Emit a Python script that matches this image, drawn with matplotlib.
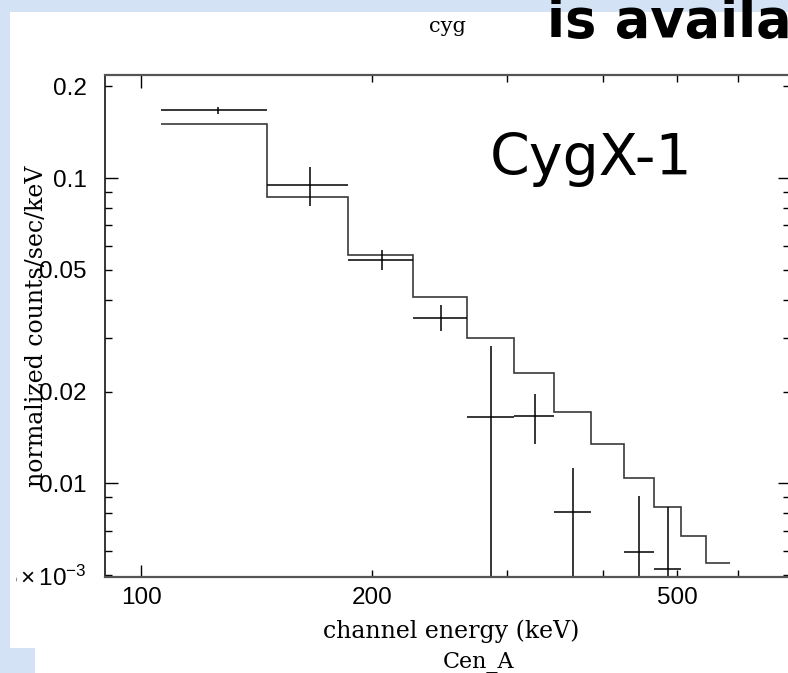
import matplotlib
matplotlib.use('Agg')
import matplotlib.pyplot as plt
from matplotlib.patches import Rectangle
from matplotlib.ticker import FixedLocator, FuncFormatter

# channel bins (keV) and folded model (counts/s/keV)
edges = [106, 146, 186, 226, 266, 306, 346, 386, 426, 466, 506, 546, 586]
model = [0.150, 0.0867, 0.0560, 0.0408, 0.0300, 0.0230, 0.0171, 0.01347,
         0.01042, 0.00838, 0.00673, 0.00549]

# data points (bin centre, half width, value, error)
data_e = [126, 166, 206, 246, 286, 326, 366, 446, 486]
data_hw = [20, 20, 20, 20, 20, 20, 20, 20, 20]
data_y = [0.1667, 0.0951, 0.0540, 0.0349, 0.0165, 0.0166, 0.00807, 0.00597, 0.00525]
data_err = [0.0044, 0.0139, 0.0040, 0.0034, 0.0117, 0.0031, 0.0032, 0.0031, 0.0031]

x_major = [100]
x_minor = [200, 300, 400, 500, 600, 700]
x_labels = {100: '100', 200: '200', 500: '500'}
y_major = [0.01, 0.1]
y_minor = [0.005, 0.006, 0.007, 0.008, 0.009, 0.02, 0.03, 0.04, 0.05,
           0.06, 0.07, 0.08, 0.09, 0.2]
y_labels = {0.005: r'$5\times10^{-3}$', 0.01: '0.01', 0.02: '0.02',
            0.05: '0.05', 0.1: '0.1', 0.2: '0.2'}

plt.rcParams['font.family'] = 'Liberation Sans'
plt.rcParams['mathtext.fontset'] = 'custom'
plt.rcParams['mathtext.rm'] = 'Liberation Sans'
plt.rcParams['mathtext.it'] = 'Liberation Sans:italic'

W, H = 788, 673
blue = '#d3e3f5'
fig = plt.figure(figsize=(W / 100, H / 100), dpi=100)
fig.patch.set_facecolor(blue)
# white slide panel
fig.add_artist(Rectangle((10 / W, 0), 1, 1 - 12 / H, transform=fig.transFigure,
                         facecolor='white', edgecolor='none', zorder=-2))
fig.add_artist(Rectangle((0, 0), 35 / W, (H - 648) / H, transform=fig.transFigure,
                         facecolor=blue, edgecolor='none', zorder=-1))

ax = fig.add_axes([105 / W, 1 - 577 / H, (790 - 105) / W, (577 - 75) / H])
ax.patch.set_alpha(0)
ax.set_xscale('log')
ax.set_yscale('log')
ax.set_xlim(89.7, 702)
ax.set_ylim(0.00494, 0.2174)

ax.stairs(model, edges, baseline=None, color='#3a3a3a', lw=1.2)
ax.errorbar(data_e, data_y, xerr=data_hw, yerr=data_err, fmt='none',
            ecolor='black', elinewidth=1.1, capsize=0)

ax.xaxis.set_major_locator(FixedLocator(x_major))
ax.xaxis.set_minor_locator(FixedLocator(x_minor))
xfmt = FuncFormatter(lambda v, p: x_labels.get(int(round(v)), ''))
ax.xaxis.set_major_formatter(xfmt)
ax.xaxis.set_minor_formatter(xfmt)
ax.yaxis.set_major_locator(FixedLocator(y_major))
ax.yaxis.set_minor_locator(FixedLocator(y_minor))
yfmt = FuncFormatter(lambda v, p: y_labels.get(round(v, 4), ''))
ax.yaxis.set_major_formatter(yfmt)
ax.yaxis.set_minor_formatter(yfmt)

ax.tick_params(which='both', direction='in', top=True, right=True,
               labelsize=17.5, color='black', width=1.0)
ax.tick_params(which='major', length=9)
ax.tick_params(which='minor', length=5)
ax.tick_params(axis='x', which='both', pad=7)
ax.tick_params(axis='y', which='both', pad=13)

for s in ['top', 'bottom']:
    ax.spines[s].set_color('#555555')
    ax.spines[s].set_linewidth(1.6)
for s in ['left', 'right']:
    ax.spines[s].set_color('black')
    ax.spines[s].set_linewidth(1.1)

# cut-off edge of the screenshot
fig.add_artist(Rectangle((10 / W, 0.05), 6 / W, 0.85, transform=fig.transFigure,
                         facecolor='white', edgecolor='none', zorder=5))
fig.add_artist(Rectangle((0, 0), 10 / W, 1, transform=fig.transFigure,
                         facecolor=blue, edgecolor='none', zorder=5))

serif = 'DejaVu Serif'
fig.text(447 / W, 1 - 27 / H, 'cyg', family=serif, fontsize=15,
         ha='center', va='center')
fig.text(547 / W, 1 - 37 / H, 'is availa', family='DejaVu Sans', fontsize=38,
         weight='bold', ha='left', va='baseline')
fig.text(490 / W, 1 - 175 / H, 'CygX-1', family='DejaVu Sans', fontsize=41,
         ha='left', va='baseline')
fig.text(451 / W, 1 - 631 / H, 'channel energy (keV)', family=serif,
         fontsize=17, ha='center', va='center')
fig.text(479 / W, 1 - 662 / H, 'Cen_A', family=serif, fontsize=16,
         ha='center', va='center')
fig.text(37 / W, 1 - 326 / H, 'normalized counts/sec/keV', family=serif,
         fontsize=17, rotation=90, ha='center', va='center')

fig.savefig('out.png', dpi=100)
